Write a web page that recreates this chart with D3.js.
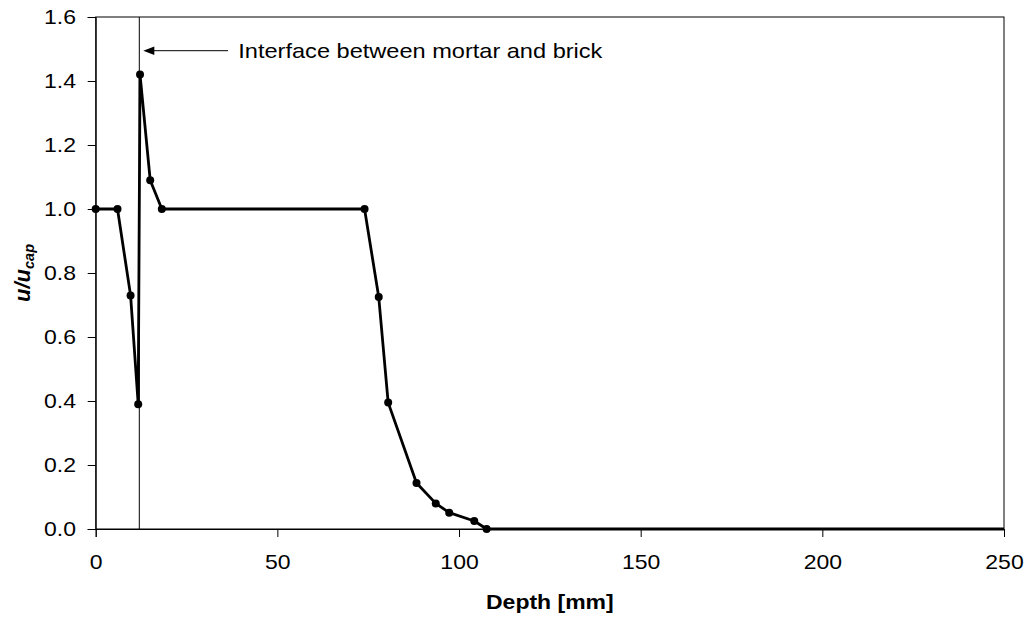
<!DOCTYPE html>
<html><head><meta charset="utf-8">
<script src="https://cdn.jsdelivr.net/npm/d3@7"></script>
<style>
body{margin:0;background:#fff;}
svg text{font-family:"Liberation Sans",Arial,sans-serif;fill:#000;}
</style></head>
<body><svg id="c" width="1028" height="619"></svg>
<script>
const depth = [0, 6, 9.6, 11.7, 12.2, 15, 18.2, 74, 77.9, 80.5, 88.3, 93.6, 97.3, 104.2, 107.6, 250];
const ratio = [1.0, 1.0, 0.73, 0.39, 1.42, 1.09, 1.0, 1.0, 0.725, 0.395, 0.144, 0.08, 0.051, 0.025, 0.0, 0.0];
const xTicks = [0, 50, 100, 150, 200, 250];
const yTicks = [0, 0.2, 0.4, 0.6, 0.8, 1.0, 1.2, 1.4, 1.6];
const interfaceDepth = 12;
const annotation = "Interface between mortar and brick";

const SX = 1.15; // horizontal text stretch of the original
const svg = d3.select("#c");
const m = {l:95.7, r:1004, t:17, b:529};
const x = d3.scaleLinear().domain([0,250]).range([m.l, m.r]);
const y = d3.scaleLinear().domain([0,1.6]).range([m.b, m.t]);

function stretch(sel){
  sel.each(function(){
    const t = d3.select(this);
    const tx = +t.attr("x")||0, ty = +t.attr("y")||0;
    t.attr("x",0).attr("y",0).attr("transform",`translate(${tx},${ty}) scale(${SX},1)`);
  });
}

// frame
svg.append("rect").attr("x",m.l).attr("y",m.t).attr("width",m.r-m.l).attr("height",m.b-m.t)
  .attr("fill","none").attr("stroke","#000").attr("stroke-width",1);

const xa = svg.append("g").attr("transform",`translate(0,${m.b})`)
  .call(d3.axisBottom(x).tickValues(xTicks).tickSize(8).tickPadding(18).tickFormat(d3.format("d")));
const ya = svg.append("g").attr("transform",`translate(${m.l},0)`)
  .call(d3.axisLeft(y).tickValues(yTicks).tickSize(8).tickPadding(11.7).tickFormat(d3.format(".1f")));
[xa,ya].forEach(g=>{
  g.select(".domain").attr("stroke","#000");
  g.selectAll(".tick line").attr("stroke","#000");
  g.selectAll("text").attr("font-size",20).attr("font-family","Liberation Sans, Arial, sans-serif").call(stretch);
});

// interface line
svg.append("line").attr("x1",x(interfaceDepth)).attr("x2",x(interfaceDepth))
  .attr("y1",m.t).attr("y2",m.b).attr("stroke","#000").attr("stroke-width",1);

// series
const pts = depth.map((d,i)=>[d,ratio[i]]);
svg.append("path").datum(pts)
  .attr("d", d3.line().x(d=>x(d[0])).y(d=>y(d[1])))
  .attr("fill","none").attr("stroke","#000").attr("stroke-width",2.8).attr("stroke-linejoin","round");
svg.selectAll("circle.pt").data(pts.slice(0,-1)).enter().append("circle")
  .attr("cx",d=>x(d[0])).attr("cy",d=>y(d[1])).attr("r",4).attr("fill","#000");

// annotation arrow
const ay = 50.7;
const tipX = x(interfaceDepth) + 4;
svg.append("line").attr("x1",228).attr("x2",tipX+8).attr("y1",ay).attr("y2",ay)
  .attr("stroke","#000").attr("stroke-width",1);
svg.append("path").attr("d",`M${tipX},${ay} L${tipX+11},${ay-4.2} L${tipX+11},${ay+4.2} Z`).attr("fill","#000");
svg.append("text").attr("x",238.3).attr("y",58.3).attr("font-size",20.5).text(annotation).call(stretch);

// axis titles
svg.append("text").attr("x",(m.l+m.r)/2).attr("y",609.3).attr("text-anchor","middle")
  .attr("font-size",20).attr("font-weight","bold").text("Depth [mm]").call(stretch);
const yl = svg.append("text").attr("transform",`translate(30,${(m.t+m.b)/2}) rotate(-90)`)
  .attr("text-anchor","middle").attr("font-size",22).attr("font-weight","bold").attr("font-style","italic");
yl.append("tspan").text("u/u");
yl.append("tspan").attr("font-size",14.5).attr("dy",4).text("cap");
</script></body></html>
